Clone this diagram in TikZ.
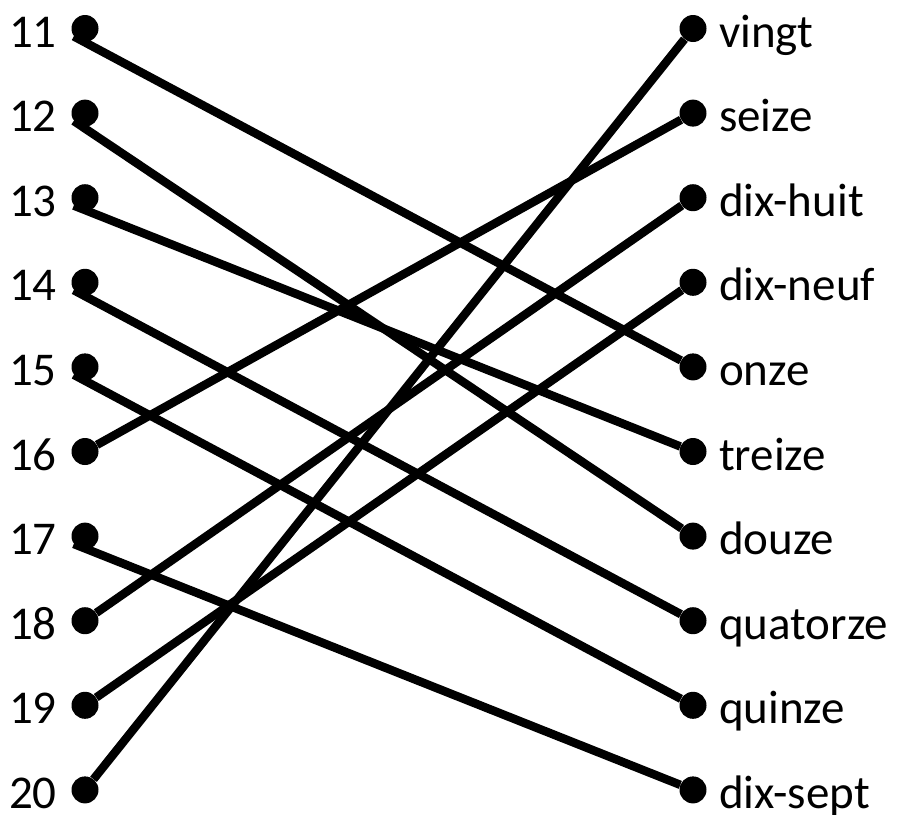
\documentclass[tikz,border=0pt]{standalone}
\usepackage{fontspec}
\setmainfont{Carlito}
\usetikzlibrary{positioning}

\begin{document}
\begin{tikzpicture}[x=1pt, y=-1pt,
    dot/.style={circle, fill=black, minimum size=27pt, inner sep=0pt},
    num/.style={inner sep=0pt, font=\fontsize{47}{50}\selectfont, anchor=base east},
    word/.style={inner sep=0pt, font=\fontsize{47}{50}\selectfont, anchor=base west},
    link/.style={line width=8.5pt}]
    % Rows
    \def\rowTop{28.5} % First row
    \def\rowStep{84.6} % Distance between rows
    \useasboundingbox (0,0) rectangle (897,814);

    % Numbers on the left
    \foreach \n [count=\i from 0] in {11,...,20} {
        \node[dot] (l\n) at (85, \rowTop+\i*\rowStep) {};
        \node[num] (n\n) at (57, \rowTop+\i*\rowStep+18.5) {\n};
    }

    % Words on the right
    \foreach \w [count=\i from 0] in {vingt,seize,dix-huit,dix-neuf,onze,treize,douze,quatorze,quinze,dix-sept} {
        \node[dot] (\w) at (693, \rowTop+\i*\rowStep) {};
        \node[word] (w-\w) at (719, \rowTop+\i*\rowStep+18.5) {\w};
    }

    % Matching lines
    \draw[link] (l11.215) -- (onze);
    \draw[link] (l12.215) -- (douze);
    \draw[link] (l13.215) -- (treize);
    \draw[link] (l14.215) -- (quatorze);
    \draw[link] (l15.215) -- (quinze);
    \draw[link] (l16) -- (seize);
    \draw[link] (l17.215) -- (dix-sept);
    \draw[link] (l18) -- (dix-huit);
    \draw[link] (l19) -- (dix-neuf);
    \draw[link] (l20) -- (vingt);
\end{tikzpicture}
\end{document}
